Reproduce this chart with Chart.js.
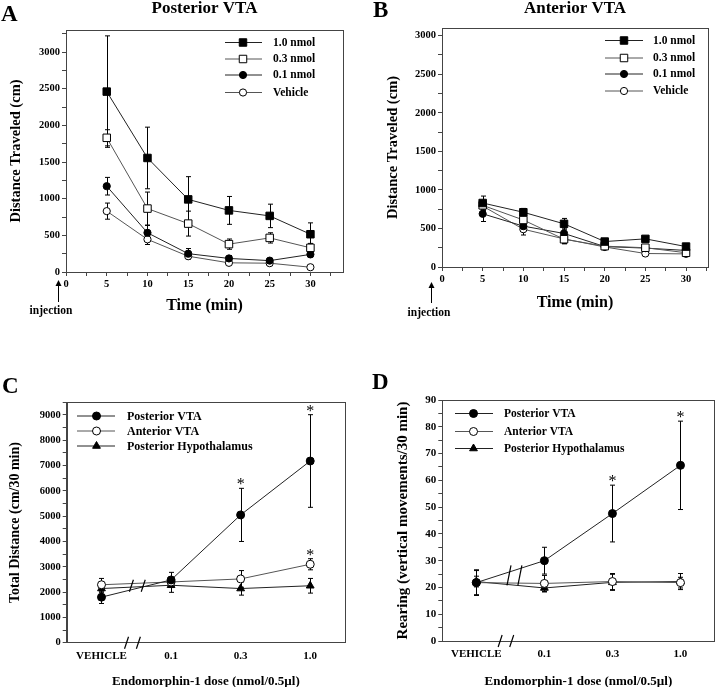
<!DOCTYPE html>
<html><head><meta charset="utf-8">
<script src="https://cdn.jsdelivr.net/npm/chart.js@4"></script>
<style>
html,body{margin:0;padding:0;background:#fff;}
#wrap{position:relative;width:720px;height:687px;overflow:hidden;background:#fff;}
canvas{position:absolute;}
</style></head><body>
<div id="wrap">
<canvas id="cA" width="360" height="330" style="left:0px;top:0px;width:360px;height:330px"></canvas>
<canvas id="cB" width="360" height="330" style="left:360px;top:0px;width:360px;height:330px"></canvas>
<canvas id="cC" width="360" height="335" style="left:0px;top:355px;width:360px;height:335px"></canvas>
<canvas id="cD" width="360" height="335" style="left:360px;top:355px;width:360px;height:335px"></canvas>
</div>
<script>
// ---------------- data ----------------
const timeMin = [5, 10, 15, 20, 25, 30];
const doseNames = ['1.0 nmol', '0.3 nmol', '0.1 nmol', 'Vehicle'];

// Panel A: Posterior VTA, distance per 5-min bin (cm)
const postA_10 = [2460, 1555, 990, 840, 765, 515];
const postA_10_err = [760, 420, 310, 190, 160, 155];
const postA_03 = [1830, 865, 660, 380, 465, 330];
const postA_03_err = [110, 225, 170, 70, 70, 60];
const postA_01 = [1170, 535, 250, 185, 155, 240];
const postA_01_err = [120, 100, 70, 40, 30, 30];
const postA_veh = [830, 445, 215, 125, 120, 65];
const postA_veh_err = [110, 70, 40, 25, 20, 15];

// Panel B: Anterior VTA
const antB_10 = [830, 710, 560, 330, 365, 265];
const antB_10_err = [90, 50, 70, 25, 30, 25];
const antB_03 = [800, 610, 360, 270, 250, 185];
const antB_03_err = [60, 60, 60, 25, 30, 25];
const antB_01 = [690, 530, 435, 265, 245, 215];
const antB_01_err = [100, 60, 70, 25, 30, 20];
const antB_veh = [790, 490, 365, 260, 175, 170];
const antB_veh_err = [60, 75, 60, 25, 20, 20];

// Panels C, D: dose response
const doseLabels = ['VEHICLE', '0.1', '0.3', '1.0'];
const siteNames = ['Posterior VTA', 'Anterior VTA', 'Posterior Hypothalamus'];

const distPost = [1800, 2480, 5050, 7180];
const distPost_err = [250, 300, 1050, 1830];
const distAnt = [2290, 2400, 2520, 3100];
const distAnt_err = [250, 120, 330, 220];
const distHyp = [2140, 2270, 2140, 2250];
const distHyp_err = [150, 280, 260, 290];
const distPost_sig = [false, false, true, true];
const distAnt_sig = [false, false, false, true];
const distHyp_sig = [false, false, false, false];

const rearPost = [21.8, 30.0, 47.6, 65.6];
const rearPost_err = [4.8, 5, 10.6, 16.5];
const rearAnt = [21.8, 21.5, 22.2, 21.8];
const rearAnt_err = [4.5, 3, 3, 2];
const rearHyp = [22.2, 19.8, 21.9, 22.2];
const rearHyp_err = [2, 1.5, 3, 3];
const rearPost_sig = [false, false, true, true];
const rearAnt_sig = [false, false, false, false];
const rearHyp_sig = [false, false, false, false];

// ---------------- styles ----------------
const F = '"Liberation Serif", "Times New Roman", serif';
const AX = '#444';
const stylesAB = [
  {shape: 'rect', fill: '#000', r: 5.3, line: '#222'},
  {shape: 'rect', fill: '#fff', r: 5.3, line: '#555'},
  {shape: 'circle', fill: '#000', r: 3.6, line: '#222'},
  {shape: 'circle', fill: '#fff', r: 3.6, line: '#555'}
];
const stylesCD = [
  {shape: 'circle', fill: '#000', r: 4, line: '#222'},
  {shape: 'circle', fill: '#fff', r: 4, line: '#555'},
  {shape: 'triangle', fill: '#000', r: 4.5, line: '#222'}
];

function mark(ctx, shape, r, x, y, fill) {
  ctx.beginPath();
  if (shape === 'rect') {
    const s = r * Math.SQRT1_2;
    ctx.rect(x - s, y - s, 2 * s, 2 * s);
  } else if (shape === 'triangle') {
    ctx.moveTo(x, y - r);
    ctx.lineTo(x + 0.866 * r, y + 0.5 * r);
    ctx.lineTo(x - 0.866 * r, y + 0.5 * r);
    ctx.closePath();
  } else {
    ctx.arc(x, y, r, 0, Math.PI * 2);
  }
  ctx.fillStyle = fill; ctx.fill();
  ctx.lineWidth = 1; ctx.strokeStyle = '#000'; ctx.stroke();
}

function valOf(d) { return (d !== null && typeof d === 'object') ? d.y : d; }

const panelPlugin = {
  id: 'panel',
  beforeDatasetsDraw(chart, args, o) {
    const {ctx} = chart; const y = chart.scales.y;
    ctx.save();
    ctx.strokeStyle = '#000'; ctx.lineWidth = 1;
    chart.data.datasets.forEach((ds, i) => {
      const errs = o.errors && o.errors[i]; if (!errs) return;
      const meta = chart.getDatasetMeta(i);
      meta.data.forEach((pt, j) => {
        const v = valOf(ds.data[j]); const e = errs[j];
        const px = Math.round(pt.x) + 0.5;
        const yt = y.getPixelForValue(v + e), yb = y.getPixelForValue(v - e);
        ctx.beginPath();
        ctx.moveTo(px, yt); ctx.lineTo(px, yb);
        ctx.moveTo(px - 2.5, yt); ctx.lineTo(px + 2.5, yt);
        ctx.moveTo(px - 2.5, yb); ctx.lineTo(px + 2.5, yb);
        ctx.stroke();
      });
    });
    ctx.restore();
  },
  afterDraw(chart, args, o) {
    const {ctx, chartArea: ca} = chart; const x = chart.scales.x, y = chart.scales.y;
    ctx.save();
    // frame box
    ctx.strokeStyle = AX; ctx.lineWidth = 1;
    ctx.strokeRect(Math.round(ca.left) + 0.5, Math.round(ca.top) + 0.5, Math.round(ca.right - ca.left), Math.round(ca.bottom - ca.top));
    // panel letter
    if (o.letter) {
      ctx.fillStyle = '#000'; ctx.font = 'bold 23px ' + F; ctx.textBaseline = 'alphabetic'; ctx.textAlign = 'left';
      ctx.fillText(o.letter.text, o.letter.x, o.letter.y);
    }
    // legend
    if (o.legend) {
      const L = o.legend;
      chart.data.datasets.forEach((ds, i) => {
        const yy = L.ys[i];
        ctx.beginPath(); ctx.strokeStyle = ds.borderColor; ctx.lineWidth = 1;
        ctx.moveTo(L.x1, yy + 0.5); ctx.lineTo(L.x2, yy + 0.5); ctx.stroke();
        mark(ctx, ds.pointStyle, ds.pointRadius, L.xm, yy + 0.5, ds.pointBackgroundColor);
        ctx.fillStyle = '#000'; ctx.font = 'bold ' + L.size + 'px ' + F;
        ctx.textAlign = 'left'; ctx.textBaseline = 'middle';
        ctx.fillText(ds.label, L.xt, yy + 1);
      });
    }
    // injection arrow
    if (o.injection) {
      const I = o.injection; const x0 = x.getPixelForValue(0);
      const ax = Math.round(x0 + I.dx) + 0.5;
      ctx.strokeStyle = '#000'; ctx.fillStyle = '#000'; ctx.lineWidth = 1;
      ctx.beginPath(); ctx.moveTo(ax, I.tailY); ctx.lineTo(ax, I.tipY + 4); ctx.stroke();
      ctx.beginPath(); ctx.moveTo(ax, I.tipY); ctx.lineTo(ax - 3, I.tipY + 6); ctx.lineTo(ax + 3, I.tipY + 6); ctx.closePath(); ctx.fill();
      ctx.font = 'bold 11.5px ' + F; ctx.textAlign = 'center'; ctx.textBaseline = 'middle';
      ctx.fillText(I.text, x0 + I.textDx, I.textY);
    }
    // significance asterisks
    if (o.sig) {
      ctx.fillStyle = '#000'; ctx.font = '16px ' + F; ctx.textAlign = 'center'; ctx.textBaseline = 'alphabetic';
      chart.data.datasets.forEach((ds, i) => {
        const s = o.sig[i]; if (!s) return;
        const meta = chart.getDatasetMeta(i);
        meta.data.forEach((pt, j) => {
          if (!s[j]) return;
          const top = y.getPixelForValue(valOf(ds.data[j]) + o.errors[i][j]);
          ctx.fillText('*', pt.x, top + 1);
        });
      });
    }
    // axis breaks
    if (o.breaks) {
      const B = o.breaks; ctx.strokeStyle = '#000'; ctx.lineWidth = 1.2;
      const slash = (px, py, h) => { ctx.beginPath(); ctx.moveTo(px - 2, py + h); ctx.lineTo(px + 2, py - h); ctx.stroke(); };
      B.axis.forEach(v => slash(x.getPixelForValue(v), ca.bottom, B.axisH));
      B.line.forEach(v => slash(x.getPixelForValue(v), y.getPixelForValue(B.lineY), B.lineH));
    }
    ctx.restore();
  }
};

function ds(label, values, xs, st) {
  return {
    label, data: xs ? values.map((v, i) => ({x: xs[i], y: v})) : values,
    borderColor: st.line, borderWidth: 1, pointStyle: st.shape, pointRadius: st.r,
    pointBackgroundColor: st.fill, pointBorderColor: '#000', pointBorderWidth: 1,
    fill: false, tension: 0
  };
}

function stepTicks(step) {
  return function (s) {
    const out = [];
    const n = Math.floor((s.max - s.min) / step + 1e-9);
    for (let k = 0; k <= n; k++) out.push({value: Math.round((s.min + k * step) * 1000) / 1000});
    s.ticks = out;
  };
}
function isMult(v, every) { return Math.abs(v / every - Math.round(v / every)) < 1e-6; }

function yScale(c) {
  return {
    type: 'linear', min: 0, max: c.max,
    afterFit(s) { s.width = c.width; },
    afterBuildTicks: stepTicks(c.step),
    ticks: {
      autoSkip: false,
      callback: v => isMult(v, c.every) ? String(v) : '',
      font: {family: F, weight: 'bold', size: c.size}, color: '#000', padding: 2
    },
    grid: {drawOnChartArea: false, drawTicks: true, tickLength: 4, color: AX},
    border: {color: AX, width: 1},
    title: {display: true, text: c.title, color: '#000', font: {family: F, weight: 'bold', size: c.tsize}, padding: {top: c.tpad, bottom: 0}}
  };
}
function xTime(c) {
  return {
    type: 'linear', min: 0, max: c.max,
    afterFit(s) { s.height = c.height; },
    afterBuildTicks: stepTicks(2.5),
    ticks: {
      autoSkip: false, maxRotation: 0,
      callback: v => isMult(v, 5) ? String(v) : '',
      font: {family: F, weight: 'bold', size: 10.5}, color: '#000', padding: 2
    },
    grid: {drawOnChartArea: false, drawTicks: true, tickLength: 4, color: AX},
    border: {color: AX, width: 1},
    title: {display: true, text: 'Time (min)', color: '#000', font: {family: F, weight: 'bold', size: 16}, padding: {top: 0, bottom: c.tpad}}
  };
}
function xDose(c) {
  return {
    type: 'category', offset: true,
    afterFit(s) { s.height = c.height; },
    ticks: {autoSkip: false, maxRotation: 0, font: {family: F, weight: 'bold', size: 11}, color: '#000', padding: 3},
    grid: {drawOnChartArea: false, drawTicks: true, tickLength: 4, color: 'rgba(0,0,0,0)'},
    border: {color: AX, width: 1},
    title: {display: true, text: 'Endomorphin-1 dose (nmol/0.5µl)', color: '#000', font: {family: F, weight: 'bold', size: 13}, padding: {top: 0, bottom: c.tpad}}
  };
}

function make(id, data, scales, padding, title, panel) {
  return new Chart(document.getElementById(id), {
    type: 'line', data,
    options: {
      responsive: false, animation: false, devicePixelRatio: 1,
      layout: {padding},
      plugins: {legend: {display: false}, tooltip: {enabled: false}, title, panel},
      scales
    },
    plugins: [panelPlugin]
  });
}

// Panel A
make('cA', {datasets: [
    ds(doseNames[0], postA_10, timeMin, stylesAB[0]),
    ds(doseNames[1], postA_03, timeMin, stylesAB[1]),
    ds(doseNames[2], postA_01, timeMin, stylesAB[2]),
    ds(doseNames[3], postA_veh, timeMin, stylesAB[3])]},
  {x: xTime({max: 34, height: 58, tpad: 15}),
   y: yScale({max: 3300, step: 250, every: 500, size: 10.5, width: 66, title: 'Distance Traveled (cm)', tsize: 14.5, tpad: 8})},
  {top: 0, right: 17, left: 0, bottom: 0},
  {display: true, text: 'Posterior VTA', fullSize: false, color: '#000', font: {family: F, weight: 'bold', size: 17, lineHeight: 1}, padding: {top: 0, bottom: 13}},
  {errors: [postA_10_err, postA_03_err, postA_01_err, postA_veh_err],
   letter: {text: 'A', x: 1, y: 21},
   legend: {x1: 225, x2: 262, xm: 243, xt: 273, ys: [42, 58.5, 74.5, 92], size: 11.5},
   injection: {text: 'injection', dx: -8.4, tipY: 280, tailY: 302, textDx: -15, textY: 311}});

// Panel B
make('cB', {datasets: [
    ds(doseNames[0], antB_10, timeMin, stylesAB[0]),
    ds(doseNames[1], antB_03, timeMin, stylesAB[1]),
    ds(doseNames[2], antB_01, timeMin, stylesAB[2]),
    ds(doseNames[3], antB_veh, timeMin, stylesAB[3])]},
  {x: xTime({max: 32.7, height: 63, tpad: 17.5}),
   y: yScale({max: 3100, step: 250, every: 500, size: 10.5, width: 82, title: 'Distance Traveled (cm)', tsize: 14.5, tpad: 25})},
  {top: 0, right: 12, left: 0, bottom: 0},
  {display: true, text: 'Anterior VTA', fullSize: false, color: '#000', font: {family: F, weight: 'bold', size: 17, lineHeight: 1}, padding: {top: 0, bottom: 11}},
  {errors: [antB_10_err, antB_03_err, antB_01_err, antB_veh_err],
   letter: {text: 'B', x: 13, y: 17},
   legend: {x1: 245, x2: 283, xm: 264, xt: 293, ys: [40, 57.5, 73.5, 90.5], size: 11.5},
   injection: {text: 'injection', dx: -10.6, tipY: 282, tailY: 303, textDx: -13, textY: 313}});

// Panel C
make('cC', {labels: doseLabels, datasets: [
    ds(siteNames[0], distPost, null, stylesCD[0]),
    ds(siteNames[1], distAnt, null, stylesCD[1]),
    ds(siteNames[2], distHyp, null, stylesCD[2])]},
  {x: xDose({height: 47.3, tpad: 0.5}),
   y: yScale({max: 9500, step: 500, every: 1000, size: 10.5, width: 66.7, title: 'Total Distance (cm/30 min)', tsize: 14, tpad: 6.6})},
  {top: 47.3, right: 15, left: 0, bottom: 0},
  {display: false},
  {errors: [distPost_err, distAnt_err, distHyp_err],
   sig: [distPost_sig, distAnt_sig, distHyp_sig],
   letter: {text: 'C', x: 2, y: 38},
   legend: {x1: 77, x2: 115, xm: 96.5, xt: 127, ys: [60.5, 75.5, 90.5], size: 12},
   breaks: {axis: [0.36, 0.53], axisH: 6, line: [0.43, 0.60], lineY: 2250, lineH: 6}});

// Panel D
make('cD', {labels: doseLabels, datasets: [
    ds(siteNames[0], rearPost, null, stylesCD[0]),
    ds(siteNames[1], rearAnt, null, stylesCD[1]),
    ds(siteNames[2], rearHyp, null, stylesCD[2])]},
  {x: xDose({height: 49, tpad: 0.5}),
   y: yScale({max: 90, step: 5, every: 10, size: 11, width: 82.3, title: 'Rearing (vertical movements/30 min)', tsize: 15, tpad: 34.5})},
  {top: 45, right: 1.7, left: 0, bottom: 0},
  {display: false},
  {errors: [rearPost_err, rearAnt_err, rearHyp_err],
   sig: [rearPost_sig, rearAnt_sig, rearHyp_sig],
   letter: {text: 'D', x: 12, y: 34},
   legend: {x1: 95, x2: 133, xm: 113.5, xt: 144, ys: [58, 76, 93], size: 11.5},
   breaks: {axis: [0.35, 0.52], axisH: 6, line: [0.48, 0.64], lineY: 24.5, lineH: 10}});
</script>
</body></html>
